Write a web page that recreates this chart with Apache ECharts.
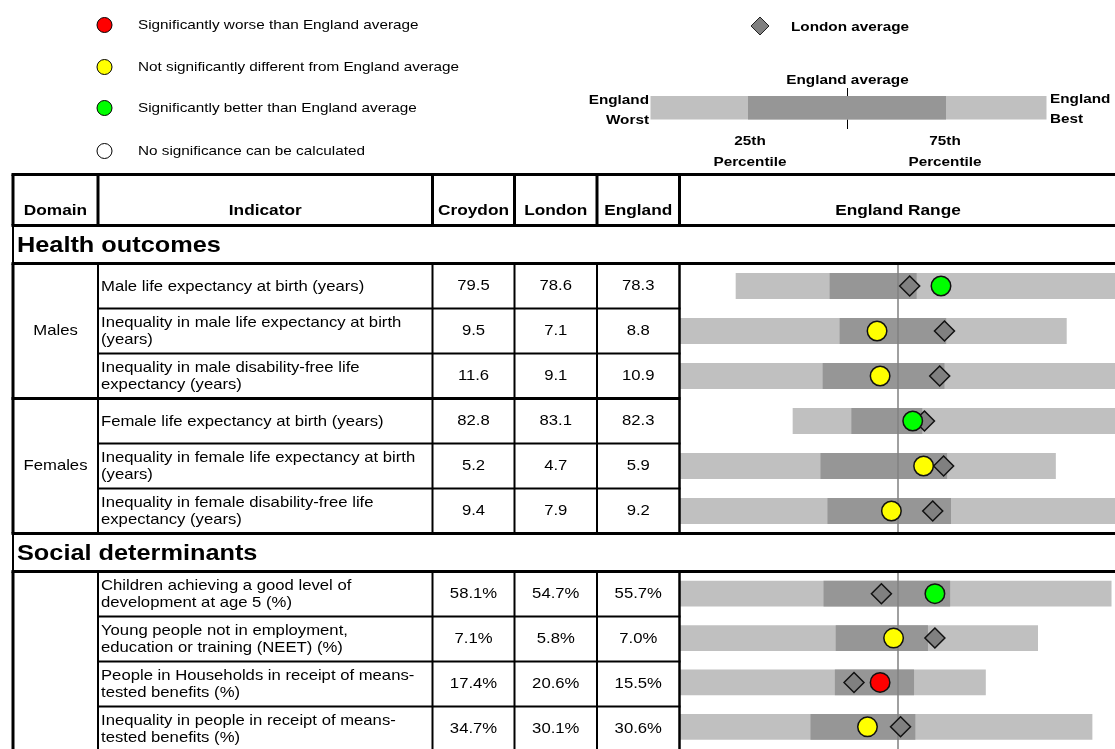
<!DOCTYPE html>
<html>
<head>
<meta charset="utf-8">
<script src="https://cdn.jsdelivr.net/npm/echarts@6/dist/echarts.min.js"></script>
<style>
html, body { margin: 0; padding: 0; background: #fff; }
#spine-chart { width: 1115px; height: 749px; }
</style>
</head>
<body>
<div id="spine-chart"></div>
<script>
const sections = ['Health outcomes', 'Social determinants'];
const sectionOf = [0, 0, 0, 0, 0, 0, 1, 1, 1, 1];
const domains = ['Males', 'Males', 'Males', 'Females', 'Females', 'Females', '', '', '', ''];
const indicators = [
  'Male life expectancy at birth (years)',
  'Inequality in male life expectancy at birth\n(years)',
  'Inequality in male disability-free life\nexpectancy (years)',
  'Female life expectancy at birth (years)',
  'Inequality in female life expectancy at birth\n(years)',
  'Inequality in female disability-free life\nexpectancy (years)',
  'Children achieving a good level of\ndevelopment at age 5 (%)',
  'Young people not in employment,\neducation or training (NEET) (%)',
  'People in Households in receipt of means-\ntested benefits (%)',
  'Inequality in people in receipt of means-\ntested benefits (%)'
];
const units = ['', '', '', '', '', '', '%', '%', '%', '%'];
const croydonValues = [79.5, 9.5, 11.6, 82.8, 5.2, 9.4, 58.1, 7.1, 17.4, 34.7];
const londonValues = [78.6, 7.1, 9.1, 83.1, 4.7, 7.9, 54.7, 5.8, 20.6, 30.1];
const englandValues = [78.3, 8.8, 10.9, 82.3, 5.9, 9.2, 55.7, 7.0, 15.5, 30.6];
const significance = ['better', 'similar', 'similar', 'better', 'similar', 'similar', 'better', 'similar', 'worse', 'similar'];

// spine scale: England worst..best laid on 0..100, England average always at 50
const engWorst = [12.8, 0, 0, 25.9, 0, 0, 0, 0, 0, 0];
const engQ25 = [34.4, 36.7, 32.8, 39.4, 32.3, 33.9, 33.0, 35.8, 35.6, 30.0];
const engQ75 = [54.4, 61.2, 60.8, 55.7, 61.4, 62.3, 62.1, 57.0, 53.8, 54.1];
const engBest = [100, 88.9, 100, 100, 86.4, 100, 99.2, 82.3, 70.3, 94.8];
const croydonPos = [60.0, 45.3, 46.0, 53.5, 56.0, 48.6, 58.6, 49.1, 46.0, 43.1];
const londonPos = [52.8, 60.8, 59.7, 56.2, 60.6, 58.1, 46.3, 58.6, 40.0, 50.7];
const englandAverage = 50;

const sigColour = { worse: '#ff0000', similar: '#ffff00', better: '#00ff00', none: '#ffffff' };
const LIGHT = '#c0c0c0';
const DARK = '#969696';
const FONT = "'Liberation Sans', Arial, sans-serif";
const SX = 1.15;   // text in the original is a bit wide

// table layout
const cols = [13, 98, 432.5, 514.5, 597, 679.5];
const RIGHT = 1115;
const TOP = 174.5;
const HEAD_H = 51;
const SEC_H = 38;
const ROW_H = 45;

const graphics = [];
const line = (x1, y1, x2, y2, w, c, z) => graphics.push({
  type: 'line', silent: true, z: z === undefined ? 10 : z,
  shape: { x1, y1, x2, y2 },
  style: { stroke: c || '#000', lineWidth: w }
});
const text = (x, y, str, size, o) => {
  o = o || {};
  graphics.push({
    type: 'text', x, y, scaleX: SX, silent: true, z: 10,
    style: {
      text: str,
      font: (o.bold ? 'bold ' : '') + size + 'px ' + FONT,
      fill: '#000',
      align: o.align || 'center',
      verticalAlign: 'middle',
      lineHeight: o.lh || size + 3
    }
  });
};

// key, top left
const keyRows = [
  ['worse', 'Significantly worse than England average', 25],
  ['similar', 'Not significantly different from England average', 67],
  ['better', 'Significantly better than England average', 108],
  ['none', 'No significance can be calculated', 151]
];
keyRows.forEach(([k, label, y]) => {
  graphics.push({
    type: 'circle', silent: true,
    shape: { cx: 104.5, cy: y, r: 7.5 },
    style: { fill: sigColour[k], stroke: '#000', lineWidth: 1 }
  });
  text(138, y, label, 13.3, { align: 'left' });
});

// key, top right
graphics.push({
  type: 'polygon', silent: true,
  shape: { points: [[760, 17], [769, 26], [760, 35], [751, 26]] },
  style: { fill: '#808080', stroke: '#222', lineWidth: 1 }
});
text(791, 27, 'London average', 13.3, { bold: true, align: 'left' });
line(847.5, 88, 847.5, 129, 1, '#000', 0);
graphics.push({ type: 'rect', silent: true, z: 1, shape: { x: 650.5, y: 96, width: 396, height: 23.5 }, style: { fill: LIGHT } });
graphics.push({ type: 'rect', silent: true, z: 1, shape: { x: 748, y: 96, width: 198, height: 23.5 }, style: { fill: DARK } });
text(847.5, 80, 'England average', 13.3, { bold: true });
text(649, 110, 'England\nWorst', 13.3, { bold: true, align: 'right', lh: 20 });
text(1050, 109, 'England\nBest', 13.3, { bold: true, align: 'left', lh: 20 });
text(750, 152, '25th\nPercentile', 13.3, { bold: true, lh: 21 });
text(945, 152, '75th\nPercentile', 13.3, { bold: true, lh: 21 });

// header row
const headY = TOP + HEAD_H;
line(11.5, TOP, RIGHT, TOP, 3);
line(11.5, headY, RIGHT, headY, 3);
cols.forEach(x => line(x, TOP, x, headY, 3));
const headLabels = ['Domain', 'Indicator', 'Croydon', 'London', 'England'];
headLabels.forEach((h, i) => text((cols[i] + cols[i + 1]) / 2, 211, h, 15, { bold: true }));
text(898, 211, 'England Range', 15, { bold: true });

// sections and rows
const blocks = [];
let y = headY;
sections.forEach((title, s) => {
  const rows = sectionOf.map((v, i) => v === s ? i : -1).filter(i => i >= 0);
  const secTop = y;
  text(17, secTop + SEC_H / 2 + 1, title, 22, { bold: true, align: 'left' });
  line(13, secTop, 13, secTop + SEC_H, 2);
  y += SEC_H;
  line(11.5, y, RIGHT, y, 3);
  const blockTop = y;
  rows.forEach((r, k) => {
    const top = blockTop + k * ROW_H;
    const mid = top + ROW_H / 2;
    const fmt = v => v.toFixed(1) + units[r];
    text(101, mid + 0.5, indicators[r], 14.5, { align: 'left', lh: 17 });
    text((cols[2] + cols[3]) / 2, mid, fmt(croydonValues[r]), 14.5);
    text((cols[3] + cols[4]) / 2, mid, fmt(londonValues[r]), 14.5);
    text((cols[4] + cols[5]) / 2, mid, fmt(englandValues[r]), 14.5);
    if (k > 0) {
      const newDomain = domains[r] !== domains[rows[k - 1]];
      line(newDomain ? 11.5 : cols[1], top, cols[5] + 1, top, newDomain ? 3 : 2);
    }
  });
  // domain labels, one per run of rows
  let k = 0;
  while (k < rows.length) {
    let e = k;
    while (e + 1 < rows.length && domains[rows[e + 1]] === domains[rows[k]]) e++;
    if (domains[rows[k]]) {
      text((cols[0] + cols[1]) / 2, blockTop + ((k + e + 1) / 2) * ROW_H, domains[rows[k]], 14.5);
    }
    k = e + 1;
  }
  y += rows.length * ROW_H;
  line(13, blockTop, 13, y, 3);
  [cols[1], cols[2], cols[3], cols[4]].forEach(x => line(x, blockTop, x, y, 2));
  line(cols[5], blockTop, cols[5], y, 2.5);
  if (s < sections.length - 1) line(11.5, y, RIGHT, y, 3);
  blocks.push({ rows, top: blockTop, height: rows.length * ROW_H });
});

function renderRange(params, api) {
  const cat = api.value(0);
  const worst = api.coord([api.value(1), cat]);
  const q25 = api.coord([api.value(2), cat]);
  const q75 = api.coord([api.value(3), cat]);
  const best = api.coord([api.value(4), cat]);
  const h = api.size([0, 1])[1] * 0.58;
  return {
    type: 'group',
    children: [
      { type: 'rect', shape: { x: worst[0], y: worst[1] - h / 2, width: best[0] - worst[0], height: h }, style: { fill: LIGHT } },
      { type: 'rect', shape: { x: q25[0], y: q25[1] - h / 2, width: q75[0] - q25[0], height: h }, style: { fill: DARK } }
    ]
  };
}

const series = [];
blocks.forEach((b, i) => {
  series.push({
    type: 'custom',
    xAxisIndex: i, yAxisIndex: i,
    renderItem: renderRange,
    encode: { x: [1, 2, 3, 4], y: 0 },
    data: b.rows.map((r, k) => [k, engWorst[r], engQ25[r], engQ75[r], engBest[r]]),
    z: 2,
    markLine: {
      silent: true, z: 3,
      symbol: ['none', 'none'],
      label: { show: false },
      lineStyle: { color: '#808080', width: 1.5, type: 'solid' },
      data: [{ xAxis: englandAverage }]
    }
  });
  series.push({
    type: 'scatter', name: 'London',
    xAxisIndex: i, yAxisIndex: i,
    symbol: 'diamond', symbolSize: 20, z: 4,
    itemStyle: { color: '#808080', borderColor: '#111', borderWidth: 1.5, opacity: 1 },
    data: b.rows.map((r, k) => [londonPos[r], k])
  });
  series.push({
    type: 'scatter', name: 'Croydon',
    xAxisIndex: i, yAxisIndex: i,
    symbol: 'circle', symbolSize: 19.5, z: 5,
    itemStyle: { borderColor: '#111', borderWidth: 1.5, opacity: 1 },
    data: b.rows.map((r, k) => ({ value: [croydonPos[r], k], itemStyle: { color: sigColour[significance[r]] } }))
  });
});

const option = {
  animation: false,
  backgroundColor: '#fff',
  grid: blocks.map(b => ({ left: 680, width: 436, top: b.top, height: b.height })),
  xAxis: blocks.map((b, i) => ({ type: 'value', gridIndex: i, min: 0, max: 100, show: false })),
  yAxis: blocks.map((b, i) => ({
    type: 'category', gridIndex: i, inverse: true, show: false,
    data: b.rows.map(r => indicators[r])
  })),
  graphic: graphics,
  series
};

const chart = echarts.init(document.getElementById('spine-chart'));
chart.setOption(option);
</script>
</body>
</html>
